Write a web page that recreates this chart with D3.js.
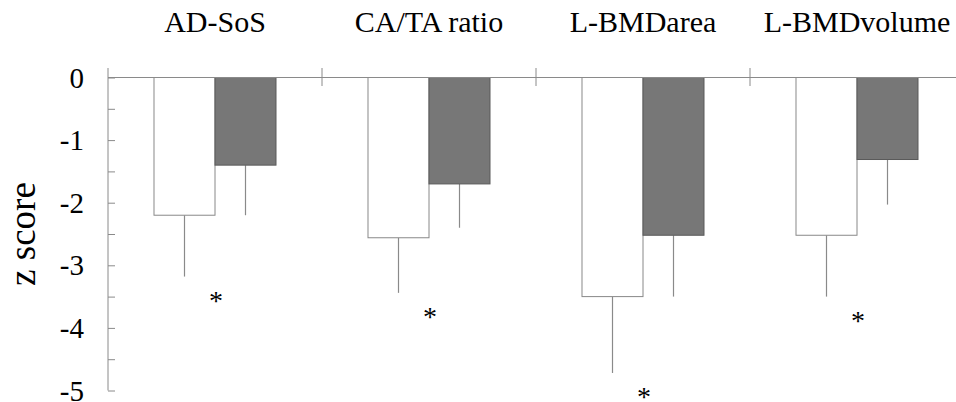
<!DOCTYPE html>
<html><head><meta charset="utf-8"><script src="https://cdn.jsdelivr.net/npm/d3@7"></script></head>
<body style="margin:0">
<svg id="s" width="956" height="402"></svg>
<script>

// categories and the two groups
var categories = ["AD-SoS", "CA/TA ratio", "L-BMDarea", "L-BMDvolume"],
    series = ["open", "filled"],

    // mean z scores (open bar, filled bar) and the SD shown by the error line
    openMeans = [-2.2, -2.56, -3.5, -2.52],
    openSD = [0.98, 0.88, 1.22, 0.98],
    filledMeans = [-1.4, -1.7, -2.52, -1.31],
    filledSD = [0.8, 0.7, 0.98, 0.72],
    significant = [true, true, true, true],

    yTicks = [0, -1, -2, -3, -4, -5],
    yMinorTicks = [-0.5, -1.5, -2.5, -3.5, -4.5];

var serifFont = "'Liberation Serif', 'Times New Roman', Tinos";

var svg = d3.select("#s").style("font-family", serifFont, "important");

// scales
var y = d3.scaleLinear().domain([0, -5]).range([77.5, 390.5]);

var x = d3.scaleBand()
    .domain(categories)
    .range([108, 964]);

var xInner = d3.scaleBand()
    .domain(series)
    .range([0, x.bandwidth()])
    .paddingInner(0)
    .paddingOuter(0.754);

var lineColor = "#8a8a8a";

var rows = categories.map(function (c, i) {
    return {
        cat: c,
        values: [
            {s: "open", mean: openMeans[i], sd: openSD[i]},
            {s: "filled", mean: filledMeans[i], sd: filledSD[i]}
        ],
        sig: significant[i]
    };
});

// bars
var groups = svg.selectAll(".grp")
    .data(rows)
    .enter().append("g")
    .attr("class", "grp")
    .attr("transform", function (d) { return "translate(" + x(d.cat) + ",0)"; });

groups.selectAll("line.err")
    .data(function (d) { return d.values; })
    .enter().append("line")
    .attr("class", "err")
    .attr("x1", function (d) { return xInner(d.s) + xInner.bandwidth() / 2; })
    .attr("x2", function (d) { return xInner(d.s) + xInner.bandwidth() / 2; })
    .attr("y1", function (d) { return y(d.mean); })
    .attr("y2", function (d) { return y(d.mean - d.sd); })
    .attr("stroke", lineColor)
    .attr("stroke-width", 1.2);

groups.selectAll("rect")
    .data(function (d) { return d.values; })
    .enter().append("rect")
    .attr("x", function (d) { return xInner(d.s); })
    .attr("y", y(0))
    .attr("width", xInner.bandwidth())
    .attr("height", function (d) { return y(d.mean) - y(0); })
    .attr("fill", function (d) { return d.s == "open" ? "#fff" : "#777"; })
    .attr("stroke", function (d) { return d.s == "open" ? "#888" : "#5a5a5a"; })
    .attr("stroke-width", 1);

// asterisks under the open bars' error line
groups.filter(function (d) { return d.sig; })
    .append("text")
    .attr("x", x.bandwidth() / 2 + 1)
    .attr("y", function (d) { return y(d.values[0].mean - d.values[0].sd) + 33; })
    .attr("text-anchor", "middle")
    .style("font-family", serifFont, "important")
    .style("font-size", "28px")
    .text("*");

// y axis, ticks pointing into the plot
var yAxis = d3.axisRight(y)
    .tickValues(yTicks.concat(yMinorTicks))
    .tickSize(7)
    .tickFormat("");

var gy = svg.append("g")
    .attr("transform", "translate(108,0)")
    .call(yAxis);
gy.select(".domain").remove();
gy.selectAll("line").attr("stroke", lineColor);

svg.append("line")
    .attr("x1", 108).attr("x2", 108)
    .attr("y1", 68).attr("y2", y(-5))
    .attr("stroke", lineColor);

// zero line and the category separators
svg.append("line")
    .attr("x1", 108).attr("x2", 956)
    .attr("y1", y(0)).attr("y2", y(0))
    .attr("stroke", lineColor);

svg.selectAll(".sep")
    .data(categories.slice(1))
    .enter().append("line")
    .attr("class", "sep")
    .attr("x1", function (d) { return x(d); })
    .attr("x2", function (d) { return x(d); })
    .attr("y1", 68).attr("y2", 86)
    .attr("stroke", lineColor);

// tick labels
svg.selectAll(".ylab")
    .data(yTicks)
    .enter().append("text")
    .attr("class", "ylab")
    .attr("x", 84)
    .attr("y", function (d) { return y(d) + 10; })
    .attr("text-anchor", "end")
    .style("font-family", serifFont, "important")
    .style("font-size", "29px")
    .text(function (d) { return d; });

// axis title
svg.append("text")
    .attr("transform", "translate(35,234) rotate(-90)")
    .attr("text-anchor", "middle")
    .style("font-family", serifFont, "important")
    .style("font-size", "37px")
    .text("z score");

// category titles
svg.selectAll(".cat")
    .data(categories)
    .enter().append("text")
    .attr("class", "cat")
    .attr("x", function (d) { return x(d) + x.bandwidth() / 2; })
    .attr("y", 32)
    .attr("text-anchor", "middle")
    .style("font-family", serifFont, "important")
    .style("font-size", "30px")
    .text(function (d) { return d; });

</script>
</body>
</html>
